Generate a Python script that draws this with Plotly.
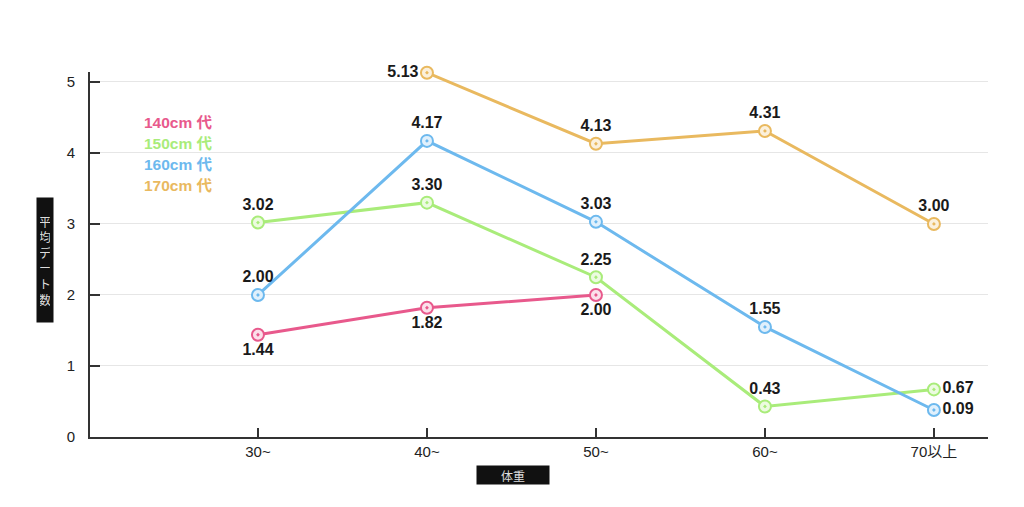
import plotly.graph_objects as go

categories = ["30~", "40~", "50~", "60~", "70以上"]
series_names = ["140cm 代", "150cm 代", "160cm 代", "170cm 代"]
colors = ["#e8598c", "#a9ec7a", "#6db9ee", "#e9b95f"]

v140 = [1.44, 1.82, 2.00, None, None]
v150 = [3.02, 3.30, 2.25, 0.43, 0.67]
v160 = [2.00, 4.17, 3.03, 1.55, 0.38]
v170 = [None, 5.13, 4.13, 4.31, 3.00]

lab140 = ["1.44", "1.82", "2.00", "", ""]
lab150 = ["3.02", "3.30", "2.25", "0.43", "0.67"]
lab160 = ["2.00", "4.17", "3.03", "1.55", "0.09"]
lab170 = ["", "5.13", "4.13", "4.31", "3.00"]

pos140 = ["bottom center"] * 5
pos150 = ["top center", "top center", "top center", "top center", "middle right"]
pos160 = ["top center", "top center", "top center", "top center", "middle right"]
pos170 = ["middle left", "middle left", "top center", "top center", "top center"]

tints = ["#fbe0ea", "#ecfbe0", "#e0f0fc", "#fbf0dc"]

FONT = "Liberation Sans, Noto Sans CJK JP, sans-serif"
JP = "Noto Sans CJK JP"

fig = go.Figure()
for vals, labs, pos, col, tint, name in zip(
    [v140, v150, v160, v170], [lab140, lab150, lab160, lab170],
    [pos140, pos150, pos160, pos170], colors, tints, series_names):
    fig.add_trace(go.Scatter(
        x=list(range(len(categories))), y=vals, mode="lines+markers+text",
        name=name, text=labs, textposition=pos,
        textfont=dict(family=FONT, size=16, color="#1a1a1a", weight="bold"),
        line=dict(color=col, width=3),
        marker=dict(symbol="circle-dot", size=12, color=tint, line=dict(color=col, width=2)),
        cliponaxis=False, showlegend=False, connectgaps=False,
    ))

# page offset (body margin 8px)
OFF = 8
W, H = 1024, 507
l, r, t, b = 90 - OFF, 44, 72 - OFF, 70 + OFF
pw, ph = W - l - r, H - t - b

def px(xp):
    return (xp - OFF - l) / pw

def py(yp):
    return 1 - (yp - OFF - t) / ph

# legend as colored text
for i, (name, col) in enumerate(zip(series_names, colors)):
    fig.add_annotation(x=px(142), y=py(122 + 21 * i), xref="x domain", yref="y domain", text=name,
                       showarrow=False, xanchor="left", yanchor="middle",
                       font=dict(family=FONT, size=15.5, color=col, weight="bold"))

# axis titles
fig.add_annotation(x=px(45), y=py(260), xref="x domain", yref="y domain",
                   text="平<br>均<br>デ<br>ー<br>ト<br>数", showarrow=False,
                   font=dict(family=JP, size=12, color="#dddddd"),
                   bgcolor="#111111", borderpad=3, width=10, height=118, align="center",
                   xanchor="center", yanchor="middle")
fig.add_annotation(x=px(513), y=py(475), xref="x domain", yref="y domain",
                   text="体重", showarrow=False,
                   font=dict(family=JP, size=12, color="#dddddd"),
                   bgcolor="#111111", width=70, height=16, borderpad=1,
                   xanchor="center", yanchor="middle")

fig.update_layout(
    width=W, height=H, margin=dict(l=l, r=r, t=t, b=b),
    paper_bgcolor="white", plot_bgcolor="white",
    font=dict(family=FONT, size=15, color="#222"),
    xaxis=dict(range=[-0.994, 4.32], tickvals=list(range(5)), ticktext=categories,
               showgrid=False, zeroline=False, showline=True, linecolor="#333", linewidth=2,
               ticks="inside", ticklen=9, tickwidth=2, tickcolor="#333",
               tickfont=dict(size=15, color="#222")),
    yaxis=dict(range=[0, 5.14], tickvals=[0, 1, 2, 3, 4, 5], showgrid=True,
               gridcolor="#e6e6e6", gridwidth=1, zeroline=False, showline=True,
               linecolor="#333", linewidth=2, ticks="inside", ticklen=10, tickwidth=2,
               tickcolor="#333", tickfont=dict(size=15, color="#222"), ticklabelstandoff=10),
)

fig.write_html("out.html")
